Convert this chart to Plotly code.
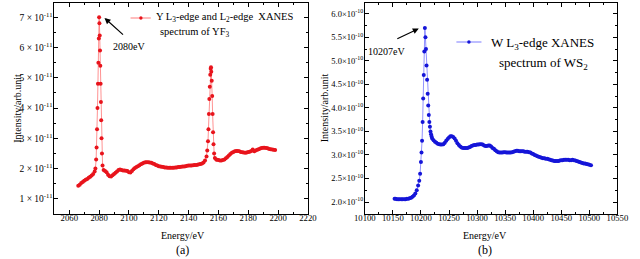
import plotly.graph_objects as go

# ---------------- data: panel (a) Y L3/L2-edge XANES of YF3 ----------------
energy_a = [2066, 2067, 2068, 2069, 2070, 2071, 2072, 2073, 2074, 2075, 2076, 2077,
            2077.5, 2078, 2078.3, 2078.6, 2078.9, 2079.2, 2079.5, 2079.8, 2080.0,
            2080.2, 2080.4, 2080.6, 2080.8, 2081.0, 2081.2, 2081.4, 2081.6, 2081.9,
            2082.3, 2083, 2084, 2085, 2086, 2087, 2088, 2089, 2090, 2091, 2092, 2093,
            2094, 2095, 2096, 2097, 2098, 2099, 2100, 2101, 2102, 2103,
            2104, 2105, 2106, 2107, 2108, 2109, 2110, 2111, 2112, 2113, 2114, 2115,
            2116, 2117, 2118, 2119, 2120, 2121, 2122, 2123, 2124, 2125, 2126, 2127,
            2128, 2129, 2130, 2131, 2132, 2133, 2134, 2135, 2136, 2137, 2138, 2139,
            2140, 2141, 2142, 2143, 2144, 2145, 2146, 2147, 2148, 2149, 2150, 2151, 2152,
            2152.5, 2153, 2153.3, 2153.6, 2153.9, 2154.2, 2154.5, 2154.8, 2155.0,
            2155.2, 2155.5, 2155.8, 2156.1, 2156.4, 2156.7, 2157.1, 2157.6, 2158.5,
            2159, 2160, 2161, 2162, 2163, 2164, 2165, 2166, 2167, 2168, 2169, 2170,
            2171, 2172, 2173, 2174, 2175, 2176, 2177, 2178, 2179, 2180, 2181, 2182,
            2183, 2184, 2185, 2186, 2187, 2188, 2189, 2190, 2191, 2192, 2193, 2194,
            2195, 2196, 2197, 2198]
intensity_a = [1.43, 1.47, 1.52, 1.56, 1.60, 1.63, 1.66, 1.70, 1.73, 1.77, 1.82, 1.90,
               2.00, 2.30, 2.70, 3.30, 4.00, 4.80, 5.50, 6.30, 7.00,
               6.80, 6.40, 5.90, 5.40, 4.80, 4.20, 3.60, 3.00, 2.50,
               2.10, 1.95, 1.92, 1.88, 1.80, 1.75, 1.74, 1.78, 1.82, 1.86, 1.90, 1.95,
               1.97, 1.95, 1.94, 1.94, 1.93, 1.92, 1.88, 1.87, 1.92, 1.98,
               2.02, 2.05, 2.08, 2.11, 2.14, 2.17, 2.19, 2.21, 2.21, 2.21, 2.20, 2.19,
               2.17, 2.15, 2.12, 2.10, 2.08, 2.07, 2.06, 2.05, 2.04, 2.04, 2.03, 2.03,
               2.03, 2.03, 2.03, 2.04, 2.04, 2.05, 2.05, 2.06, 2.07, 2.07, 2.08, 2.09,
               2.10, 2.10, 2.10, 2.11, 2.12, 2.12, 2.13, 2.14, 2.15, 2.17, 2.20, 2.27, 2.40,
               2.60, 2.90, 3.30, 3.80, 4.30, 4.70, 5.10, 5.30, 5.35,
               5.20, 4.90, 4.40, 3.80, 3.20, 2.80, 2.50, 2.35, 2.30,
               2.29, 2.28, 2.27, 2.27, 2.28, 2.30, 2.34, 2.38, 2.43, 2.48, 2.52, 2.55,
               2.57, 2.58, 2.58, 2.57, 2.55, 2.54, 2.53, 2.52, 2.53, 2.55, 2.56, 2.58,
               2.63, 2.57, 2.60, 2.62, 2.64, 2.66, 2.68, 2.69, 2.69, 2.68, 2.67, 2.65,
               2.64, 2.63, 2.62, 2.61]  # x 1e-11

# ---------------- data: panel (b) W L3-edge XANES of WS2 ----------------
energy_b = [10153, 10155, 10157.5, 10160, 10162.5, 10165, 10167.5, 10170, 10172.5, 10175,
            10177.5, 10180, 10182.5, 10185, 10187.5, 10190, 10192.5, 10195, 10197, 10198.5,
            10200, 10201, 10202, 10203, 10204, 10205, 10206, 10207, 10208, 10209,
            10210, 10211, 10212, 10213, 10214, 10215, 10216, 10217, 10218, 10219,
            10220, 10222.5, 10225, 10227.5, 10230, 10232.5, 10235, 10237.5, 10240, 10242.5,
            10245, 10247.5, 10250, 10252.5, 10255, 10257.5, 10260, 10262.5, 10265, 10267.5,
            10270, 10272.5, 10275, 10277.5, 10280, 10282.5, 10285, 10287.5, 10290, 10292.5,
            10295, 10297.5, 10300, 10302.5, 10305, 10307.5, 10310, 10312.5, 10315, 10317.5,
            10320, 10322.5, 10325, 10327.5, 10330, 10332.5, 10335, 10337.5, 10340, 10342.5,
            10345, 10347.5, 10350, 10352.5, 10355, 10357.5, 10360, 10362.5, 10365, 10367.5,
            10370, 10372.5, 10375, 10377.5, 10380, 10382.5, 10385, 10387.5, 10390, 10392.5,
            10395, 10397.5, 10400, 10402.5, 10405, 10407.5, 10410, 10412.5, 10415, 10417.5,
            10420, 10422.5, 10425, 10427.5, 10430, 10432.5, 10435, 10437.5, 10440, 10442.5,
            10445, 10447.5, 10450, 10452.5, 10455, 10457.5, 10460, 10462.5, 10465, 10467.5,
            10470, 10472.5, 10475, 10477.5, 10480, 10482.5, 10485, 10487.5, 10490, 10492.5,
            10495, 10497.5, 10500, 10503]
intensity_b = [2.07, 2.07, 2.06, 2.06, 2.06, 2.06, 2.06, 2.06, 2.06, 2.07,
               2.07, 2.08, 2.09, 2.11, 2.14, 2.18, 2.25, 2.35, 2.45, 2.60,
               2.85, 3.05, 3.30, 3.70, 4.20, 4.70, 5.20, 5.70, 5.50, 5.25,
               4.90, 4.60, 4.30, 4.05, 3.85, 3.70, 3.60, 3.50, 3.44, 3.39,
               3.35, 3.31, 3.28, 3.26, 3.24, 3.23, 3.22, 3.22, 3.23, 3.26,
               3.30, 3.34, 3.37, 3.40, 3.40, 3.38, 3.35, 3.30, 3.25, 3.21,
               3.18, 3.16, 3.15, 3.15, 3.15, 3.15, 3.16, 3.17, 3.19, 3.20,
               3.21, 3.21, 3.22, 3.22, 3.23, 3.23, 3.22, 3.20, 3.19, 3.19,
               3.20, 3.20, 3.18, 3.15, 3.13, 3.10, 3.08, 3.06, 3.05, 3.05,
               3.05, 3.06, 3.06, 3.05, 3.05, 3.05, 3.05, 3.06, 3.07, 3.08,
               3.09, 3.09, 3.08, 3.08, 3.08, 3.08, 3.07, 3.07, 3.07, 3.06,
               3.05, 3.03, 3.02, 3.00, 2.99, 2.97, 2.96, 2.95, 2.94, 2.93,
               2.93, 2.92, 2.92, 2.91, 2.90, 2.89, 2.88, 2.87, 2.87, 2.87,
               2.87, 2.88, 2.89, 2.89, 2.90, 2.90, 2.90, 2.90, 2.89, 2.89,
               2.90, 2.89, 2.88, 2.87, 2.86, 2.85, 2.84, 2.83, 2.82, 2.82,
               2.81, 2.80, 2.79, 2.78]  # x 1e-10

# tick labels
xticks_a = [2060, 2080, 2100, 2120, 2140, 2160, 2180, 2200, 2220]
yticks_a = [1, 2, 3, 4, 5, 6, 7]
ylabels_a = ["%d × 10<sup>-11</sup>" % v for v in yticks_a]
xticks_b = [10100, 10150, 10200, 10250, 10300, 10350, 10400, 10450, 10500, 10550]
yticks_b = [2.0, 2.5, 3.0, 3.5, 4.0, 4.5, 5.0, 5.5, 6.0]
ylabels_b = ["%.1f×10<sup>-10</sup>" % v for v in yticks_b]

W, H = 640, 259
FONT = "Liberation Serif"


def px(x):
    return x / W


def py(y):
    return 1 - y / H


fig = go.Figure()
fig.add_trace(go.Scatter(
    x=energy_a, y=[v * 1e-11 for v in intensity_a], mode="lines+markers",
    line=dict(color="rgba(255,110,110,0.75)", width=1),
    marker=dict(color="#e8141c", size=4),
    xaxis="x", yaxis="y", showlegend=False))
fig.add_trace(go.Scatter(
    x=energy_b, y=[v * 1e-10 for v in intensity_b], mode="lines+markers",
    line=dict(color="rgba(110,110,255,0.75)", width=1),
    marker=dict(color="#1515d8", size=4),
    xaxis="x2", yaxis="y2", showlegend=False))

axis_common = dict(showline=True, linecolor="black", linewidth=1, mirror="ticks",
                   ticks="inside", ticklen=4, tickcolor="black", showgrid=False,
                   zeroline=False)
xfont = dict(family=FONT, size=8.7, color="black")

ydom = [py(214), py(3)]
fig.update_layout(
    width=W, height=H, margin=dict(l=0, r=0, t=0, b=0),
    paper_bgcolor="white", plot_bgcolor="white",
    font=dict(family=FONT, color="black", size=10),
    xaxis=dict(domain=[px(45), px(308)], range=[2050, 2220], anchor="y",
               tickmode="array", tickvals=xticks_a, ticktext=[str(v) for v in xticks_a],
               tickfont=xfont, ticklabelstandoff=-4,
               minor=dict(ticks="inside", ticklen=2, tickcolor="black", dtick=10, tick0=2050),
               **axis_common),
    yaxis=dict(domain=ydom, range=[0.5e-11, 7.47e-11], anchor="x",
               tickmode="array", tickvals=[v * 1e-11 for v in yticks_a], ticktext=ylabels_a,
               tickfont=dict(family=FONT, size=9.5, color="black"), ticklabelstandoff=-1,
               minor=dict(ticks="inside", ticklen=2, tickcolor="black",
                          tickvals=[(v + 0.5) * 1e-11 for v in yticks_a]),
               **axis_common),
    xaxis2=dict(domain=[px(367), px(629)], range=[10100, 10550], anchor="y2",
                tickmode="array", tickvals=xticks_b, ticktext=[str(v) for v in xticks_b],
                tickfont=xfont, ticklabelstandoff=-4,
                minor=dict(ticks="inside", ticklen=2, tickcolor="black", dtick=25, tick0=10100),
                **axis_common),
    yaxis2=dict(domain=ydom, range=[1.745e-10, 6.23e-10], anchor="x2",
                tickmode="array", tickvals=[v * 1e-10 for v in yticks_b], ticktext=ylabels_b,
                tickfont=dict(family=FONT, size=8.5, color="black"), ticklabelstandoff=-1,
                minor=dict(ticks="inside", ticklen=2, tickcolor="black",
                           tickvals=[(v + 0.25) * 1e-10 for v in yticks_b]),
                **axis_common),
)

ann = []
shapes = []


def text(x, y, s, size, xanchor="center", angle=0):
    ann.append(dict(x=px(x), y=py(y), text=s, showarrow=False, xref="paper", yref="paper",
                    xanchor=xanchor, yanchor="middle", textangle=angle,
                    font=dict(family=FONT, size=size, color="black")))


# axis titles and panel labels
for cx, lab in [(178, "(a)"), (492, "(b)")]:
    text(cx, 235, "Energy/eV", 10)
    text(cx, 250, lab, 12)
for cx in [6, 325]:
    text(cx, 108, "Intensity/arb.unit", 10, angle=-90)

# legend (a)
shapes.append(dict(type="line", xref="paper", yref="paper", x0=px(124), x1=px(145),
                   y0=py(18), y1=py(18), line=dict(color="rgba(255,110,110,0.9)", width=1)))
shapes.append(dict(type="circle", xref="paper", yref="paper", x0=px(133), x1=px(136.5),
                   y0=py(19.7), y1=py(16.3), fillcolor="#e8141c", line=dict(width=0)))
text(148, 18, "Y L<sub>3</sub>-edge and L<sub>2</sub>-edge  XANES", 10.5, xanchor="left")
text(152, 33, "spectrum of YF<sub>3</sub>", 10.5, xanchor="left")
# annotation (a)
ann.append(dict(x=px(97), y=py(18), ax=20, ay=18, text="", showarrow=True, arrowhead=2,
                arrowsize=1, arrowwidth=1.2, arrowcolor="black", xref="paper", yref="paper"))
text(122, 47, "2080eV", 10)

# legend (b)
shapes.append(dict(type="line", xref="paper", yref="paper", x0=px(462), x1=px(488),
                   y0=py(42), y1=py(42), line=dict(color="rgba(110,110,255,0.9)", width=1)))
shapes.append(dict(type="circle", xref="paper", yref="paper", x0=px(473.2), x1=px(476.8),
                   y0=py(43.8), y1=py(40.2), fillcolor="#1515d8", line=dict(width=0)))
text(496, 43, "W L<sub>3</sub>-edge XANES", 13, xanchor="left")
text(504, 64, "spectrum of WS<sub>2</sub>", 13, xanchor="left")
# annotation (b)
ann.append(dict(x=px(423), y=py(28.5), ax=-23, ay=11, text="", showarrow=True, arrowhead=2,
                arrowsize=1, arrowwidth=1.2, arrowcolor="black", xref="paper", yref="paper"))
text(389, 51, "10207eV", 10)

fig.update_layout(annotations=ann, shapes=shapes)
fig.write_html("out.html", config={"displayModeBar": False},
               post_script="document.body.style.margin='0';document.body.style.overflow='hidden';")
